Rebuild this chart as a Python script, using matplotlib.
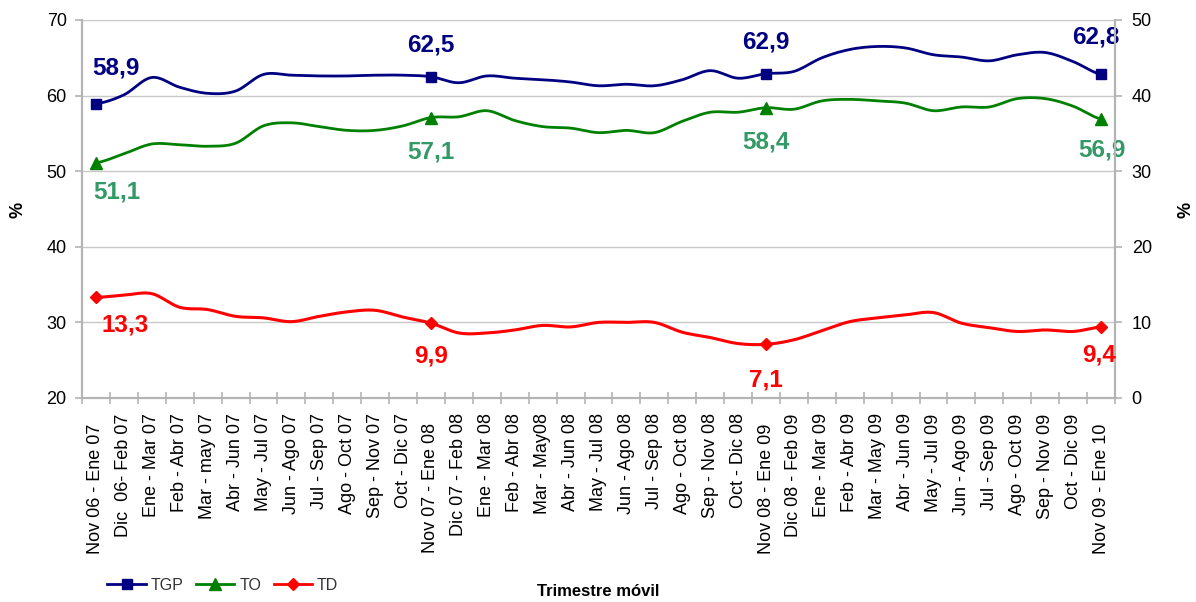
import numpy as np
import matplotlib
matplotlib.use("Agg")
import matplotlib.pyplot as plt
from matplotlib.lines import Line2D

plt.rcParams['font.family'] = ['Liberation Sans', 'DejaVu Sans']

# ------------------------------
# Data
# ------------------------------
periods = [
    "Nov 06 - Ene 07  ", "Dic  06- Feb 07", "Ene - Mar 07", "Feb - Abr 07", "Mar - may 07",
    "Abr - Jun 07", "May - Jul 07", "Jun - Ago 07", "Jul - Sep 07", "Ago - Oct 07",
    "Sep - Nov 07", "Oct - Dic 07", "Nov 07 - Ene 08  ", "Dic 07 - Feb 08", "Ene - Mar 08",
    "Feb - Abr 08", "Mar - May08", "Abr - Jun 08", "May - Jul 08", "Jun - Ago 08",
    "Jul - Sep 08", "Ago - Oct 08", "Sep - Nov 08", "Oct - Dic 08", "Nov 08 - Ene 09  ",
    "Dic 08 - Feb 09", "Ene - Mar 09", "Feb - Abr 09", "Mar - May 09", "Abr - Jun 09",
    "May - Jul 09", "Jun - Ago 09", "Jul - Sep 09", "Ago - Oct 09", "Sep - Nov 09",
    "Oct - Dic 09", "Nov 09 - Ene 10  ",
]

tgp = [58.9, 60.1, 62.4, 61.1, 60.3, 60.6, 62.8, 62.7, 62.6, 62.6,
       62.7, 62.7, 62.5, 61.7, 62.6, 62.3, 62.1, 61.8, 61.3, 61.5,
       61.3, 62.1, 63.3, 62.3, 62.9, 63.2, 65.0, 66.1, 66.5, 66.3,
       65.4, 65.1, 64.6, 65.4, 65.7, 64.5, 62.8]

to = [51.1, 52.3, 53.6, 53.5, 53.3, 53.7, 56.0, 56.4, 55.9, 55.4,
      55.4, 56.0, 57.1, 57.2, 58.0, 56.7, 55.9, 55.7, 55.1, 55.4,
      55.1, 56.6, 57.8, 57.8, 58.4, 58.2, 59.3, 59.5, 59.3, 59.0,
      58.0, 58.5, 58.5, 59.6, 59.6, 58.6, 56.9]

td = [13.3, 13.6, 13.8, 12.0, 11.7, 10.8, 10.6, 10.1, 10.8, 11.4,
      11.6, 10.7, 9.9, 8.6, 8.6, 9.0, 9.6, 9.4, 10.0, 10.0,
      10.0, 8.7, 8.0, 7.2, 7.1, 7.7, 8.9, 10.1, 10.6, 11.0,
      11.3, 9.9, 9.3, 8.8, 9.0, 8.8, 9.4]

marked = [0, 12, 24, 36]


def smooth(y, n=12):
    # Catmull-Rom curve through the points (like Excel "smoothed line")
    y = np.asarray(y, dtype=float)
    p = np.concatenate([[y[0]], y, [y[-1]]])
    xs, ys = [], []
    t = np.linspace(0, 1, n, endpoint=False)
    for i in range(len(y) - 1):
        p0, p1, p2, p3 = p[i], p[i + 1], p[i + 2], p[i + 3]
        seg = 0.5 * ((2 * p1) + (-p0 + p2) * t + (2 * p0 - 5 * p1 + 4 * p2 - p3) * t ** 2
                     + (-p0 + 3 * p1 - 3 * p2 + p3) * t ** 3)
        xs.extend(i + t)
        ys.extend(seg)
    xs.append(len(y) - 1)
    ys.append(y[-1])
    return np.array(xs), np.array(ys)


x = np.arange(len(periods))

fig = plt.figure(figsize=(11.96, 6.02), dpi=100)
ax = fig.add_axes([82 / 1196, 1 - 398 / 602, (1115 - 82) / 1196, (398 - 20) / 602])
ax2 = ax.twinx()

gray = '#b4b4b4'

# grid
ax.set_ylim(20, 70)
ax.set_yticks(range(20, 71, 10))
ax.yaxis.grid(True, color='#c8c8c8', linewidth=1)
ax.set_axisbelow(True)
ax2.set_ylim(0, 50)
ax2.set_yticks(range(0, 51, 10))

ax.set_xlim(-0.5, len(periods) - 0.5)
ax.set_xticks(x)
ax.set_xticklabels(periods, rotation=90, fontsize=13)
ax.set_xticks(np.arange(-0.5, len(periods), 1), minor=True)
ax.tick_params(axis='x', which='major', length=0, pad=11)
ax.tick_params(axis='x', which='minor', direction='inout', length=8.5, color=gray, width=1.2)
ax.tick_params(axis='y', labelsize=13, length=5, color=gray, width=1.2, pad=6)
ax2.tick_params(axis='y', labelsize=13, length=5, color=gray, width=1.2, pad=7)

for a in (ax, ax2):
    a.spines['top'].set_visible(False)
    for s in ('left', 'right', 'bottom'):
        a.spines[s].set_color(gray)
        a.spines[s].set_linewidth(1.5)

# lines
sx, sy = smooth(tgp)
ax.plot(sx, sy, color='#000080', linewidth=2, zorder=3)
ax.plot(x[marked], np.array(tgp)[marked], 's', color='#000080', markersize=6.5, zorder=4)

sx, sy = smooth(to)
ax.plot(sx, sy, color='#008000', linewidth=2, zorder=3)
ax.plot(x[marked], np.array(to)[marked], '^', color='#008000', markersize=8, zorder=4)

sx, sy = smooth(td)
ax2.plot(sx, sy, color='#ff0000', linewidth=2.2, zorder=3)
ax2.plot(x[marked], np.array(td)[marked], 'D', color='#ff0000', markersize=6.5, zorder=4)

# data labels
def fmt(v):
    return f"{v:.1f}".replace('.', ',')

tgp_off = [(20, 36), (0, 32), (0, 32), (-5, 37)]
to_off = [(21, -29), (0, -34), (0, -34), (1, -31)]
td_off = [(29, -28), (0, -33), (0, -36), (-2, -28)]
for k, i in enumerate(marked):
    ax.annotate(fmt(tgp[i]), (x[i], tgp[i]), xytext=tgp_off[k], textcoords='offset pixels',
                ha='center', va='center', fontsize=17.5, fontweight='bold', color='#000080')
    ax.annotate(fmt(to[i]), (x[i], to[i]), xytext=to_off[k], textcoords='offset pixels',
                ha='center', va='center', fontsize=17.5, fontweight='bold', color='#339966')
    ax2.annotate(fmt(td[i]), (x[i], td[i]), xytext=td_off[k], textcoords='offset pixels',
                 ha='center', va='center', fontsize=17.5, fontweight='bold', color='#ff0000')

fig.text(18 / 1196, 1 - 210 / 602, '%', fontsize=13, fontweight='bold', rotation=90,
         ha='center', va='center')
fig.text(1186 / 1196, 1 - 210 / 602, '%', fontsize=13, fontweight='bold', rotation=90,
         ha='center', va='center')
fig.text(598 / 1196, 1 - 592 / 602, 'Trimestre móvil', fontsize=12, fontweight='bold',
         ha='center', va='center')

handles = [
    Line2D([], [], color='#000080', marker='s', markersize=6.5, linewidth=2),
    Line2D([], [], color='#008000', marker='^', markersize=8, linewidth=2),
    Line2D([], [], color='#ff0000', marker='D', markersize=6, linewidth=2),
]
fig.legend(handles, ['TGP', 'TO', 'TD'], loc='center left', bbox_to_anchor=(93 / 1196, 1 - 585 / 602),
           ncol=3, frameon=False, fontsize=11.5, handlelength=2.4, handletextpad=0.3,
           columnspacing=0.8, labelcolor='#333333')

fig.savefig('out.png', dpi=100)
